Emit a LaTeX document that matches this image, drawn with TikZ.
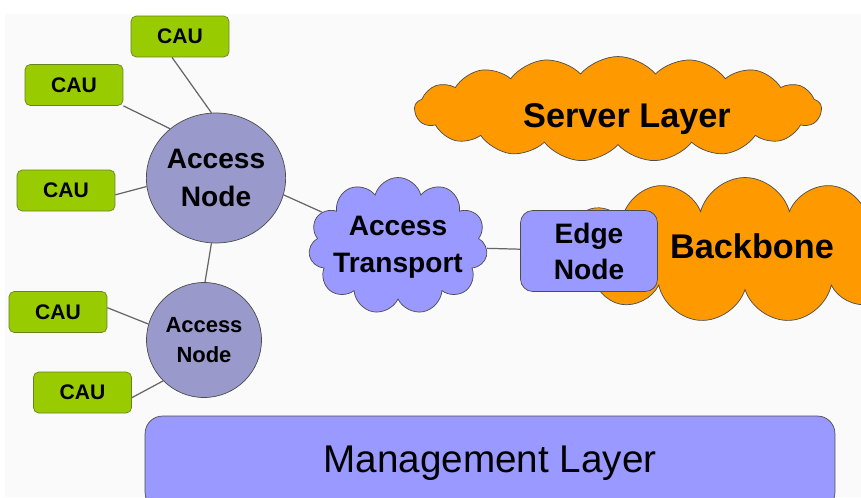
\documentclass[tikz,border=0pt]{standalone}
\usepackage{fontspec}
\setmainfont{Liberation Sans}
\usepackage{tikz}
\usetikzlibrary{shapes,arrows.meta,positioning}
\tikzset{>=latex}
\usepackage{xcolor}
\definecolor{caugreen}{RGB}{153,204,0}
\definecolor{caurim}{RGB}{105,130,30}
\definecolor{nodeblue}{RGB}{153,153,204}
\definecolor{netblue}{RGB}{153,153,255}
\definecolor{cloudorange}{RGB}{255,153,0}

\begin{document}
\begin{tikzpicture}[x=0.02cm,y=-0.02cm,
    cau/.style={draw=caurim,fill=caugreen,rounded corners=3pt,minimum width=1.96cm,minimum height=0.82cm,font=\fontsize{12}{14}\selectfont\bfseries},
    access/.style={draw=black!70,fill=nodeblue,ellipse,inner sep=0pt,align=center},
    net/.style={cloud,cloud ignores aspect,draw=black!70,inner sep=0pt},
    big/.style={font=\fontsize{19.5}{24}\selectfont\bfseries},
    link/.style={draw=black!60,line width=0.7pt}]

            \clip (0,0) rectangle (861,497);
            \fill[black!2] (5,14) rectangle (861,497);

            % access side
            \node[access,minimum width=2.74cm,minimum height=2.6cm,font=\fontsize{16}{22}\selectfont\bfseries] (an1) at (216,178) {Access\\Node};
            \node[access,minimum width=2.3cm,minimum height=2.3cm,font=\fontsize{12.5}{17}\selectfont\bfseries] (an2) at (204,340) {Access\\Node};
            \foreach \n/\x/\y in {1/180/36.5,2/74/85,3/66/190.5,4/58/312,5/82.5/392.5}
              {
                \node[cau] (cau\n) at (\x,\y) {CAU};
              }

            % transport and core
            \node[net,fill=netblue,cloud puffs=11,minimum width=3.58cm,minimum height=2.74cm] (transport) at (398,246) {};
            \node[align=center,font=\fontsize{16}{21}\selectfont\bfseries] (transportlabel) at (398,247) {Access\\Transport};
            \node[net,fill=cloudorange,cloud puffs=17,cloud puff arc=100,minimum width=8.14cm,minimum height=2.1cm] (server) at (618,109) {};
            \node[big] (serverlabel) at (627,119) {Server Layer};
            \node[net,fill=cloudorange,cloud puffs=13,minimum width=7.5cm,minimum height=2.9cm] (backbone) at (745,250) {};
            \node[big] (backbonelabel) at (752,246) {Backbone};
            \node[draw=black!70,fill=netblue,rounded corners=7pt,minimum width=2.74cm,minimum height=1.62cm,align=center,font=\fontsize{16}{20.5}\selectfont\bfseries] (edge) at (589,251) {Edge\\Node};

            \node[draw=black!70,fill=netblue,rounded corners=10pt,minimum width=13.8cm,minimum height=1.88cm,font=\fontsize{22}{26}\selectfont] (mgmt) at (490,463) {Management Layer};

            % links
            \draw[link] (cau1.249) -- (an1.94);
            \draw[link] (cau2.south east) -- (an1.133);
            \draw[link] (cau3.-5) -- (an1.187);
            \draw[link] (cau4.5) -- (an2.164);
            \draw[link] (cau5.-6) -- (an2.225);
            \draw[link] (an1.266) -- (an2.89);
            \draw[link] (an1.-14) -- (transport.156);
            \draw[link] (transport) -- (edge);
          \end{tikzpicture}
\end{document}
